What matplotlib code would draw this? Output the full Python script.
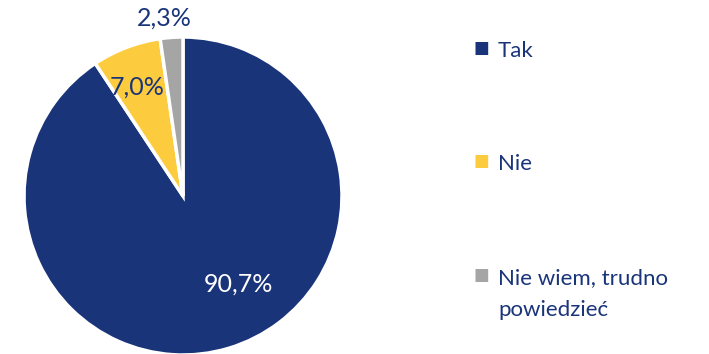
import matplotlib
matplotlib.use('Agg')
import matplotlib.pyplot as plt

plt.rcParams['font.family'] = ['Lato', 'DejaVu Sans']

# data
labels = ['Tak', 'Nie', 'Nie wiem, trudno\npowiedzieć']
values = [90.7, 7.0, 2.3]
pct_text = ['90,7%', '7,0%', '2,3%']
colors = ['#1a347a', '#fdcb3e', '#a5a5a5']
text_colors = ['white', '#1a347a', '#1a347a']
# label spots inside the axes (pie radius = 1)
label_pos = [(0.346, -0.553), (-0.286, 0.686), (-0.12, 1.116)]

fig = plt.figure(figsize=(7.09, 3.54), dpi=100)
# square axes of 318 px centred at (183, 196) px
ax = fig.add_axes([24 / 709, -1 / 354, 318 / 709, 318 / 354])
ax.pie(values, colors=colors, startangle=90, counterclock=False,
       wedgeprops=dict(edgecolor='white', linewidth=2.5))
ax.set_xlim(-1, 1)
ax.set_ylim(-1, 1)
ax.set_aspect('auto')
ax.axis('off')

for t, (x, y), c in zip(pct_text, label_pos, text_colors):
    ax.text(x, y, t, ha='center', va='center', fontsize=18, color=c,
            clip_on=False)

# legend drawn by hand
leg_y = [48, 161, 275]
for lab, col, y in zip(labels, colors, leg_y):
    fig.text(481 / 709, 1 - y / 354, '■', color=col, fontsize=12,
             ha='center', va='center', family='DejaVu Sans')
    for i, line in enumerate(lab.split('\n')):
        fig.text(498 / 709, 1 - (y + 9 + 32 * i) / 354, line, color='#1a347a',
                 fontsize=16, ha='left', va='baseline')

fig.savefig('out.png', dpi=100)
